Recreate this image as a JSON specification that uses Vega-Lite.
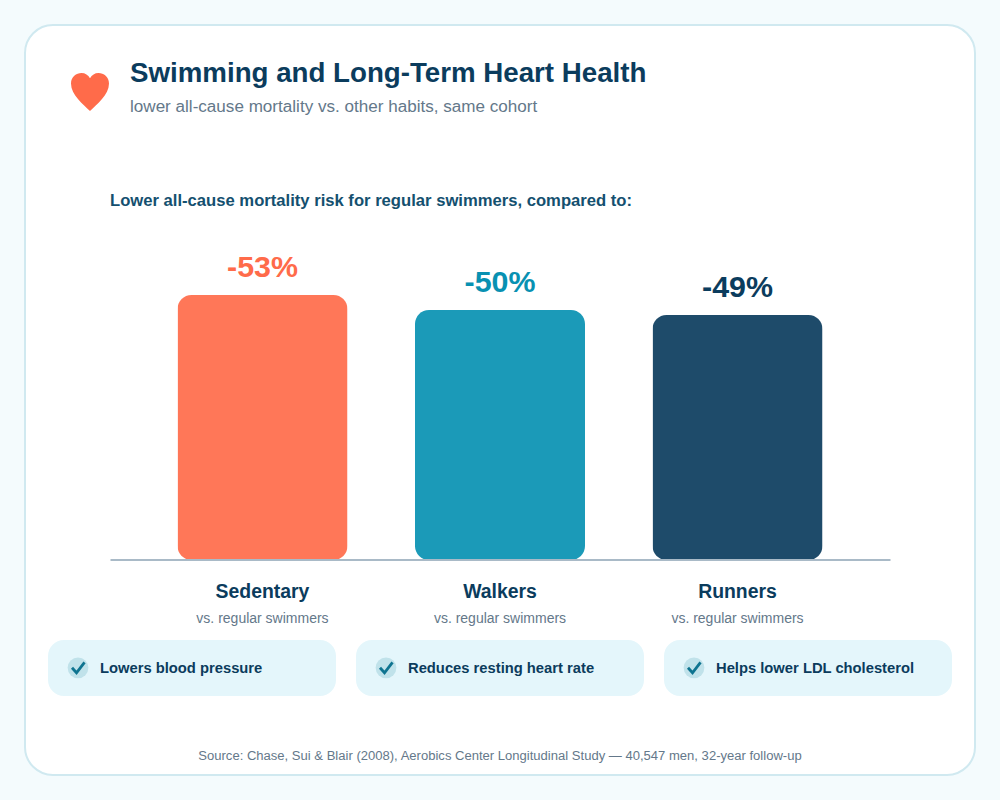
{
  "$schema": "https://vega.github.io/schema/vega-lite/v6.json",
  "background": "#f4fbfd",
  "padding": 25,
  "autosize": "none",
  "width": 950,
  "height": 750,
  "view": {"fill": "white", "stroke": "#d0e9f0", "strokeWidth": 2, "cornerRadius": 28},
  "config": {"font": "Liberation Sans"},
  "title": {
    "text": "Swimming and Long-Term Heart Health",
    "subtitle": "lower all-cause mortality vs. other habits, same cohort",
    "frame": "group",
    "anchor": "start",
    "dx": 105,
    "dy": 90,
    "offset": 0,
    "fontSize": 27.7,
    "fontWeight": "bold",
    "color": "#0b3c5d",
    "subtitleFontSize": 17.08,
    "subtitleColor": "#64788a",
    "subtitlePadding": 11
  },
  "datasets": {
    "groups": [
      {"group": "Sedentary", "reduction": 53, "label": "-53%", "note": "vs. regular swimmers"},
      {"group": "Walkers", "reduction": 50, "label": "-50%", "note": "vs. regular swimmers"},
      {"group": "Runners", "reduction": 49, "label": "-49%", "note": "vs. regular swimmers"}
    ],
    "benefits": [
      {"benefit": "Lowers blood pressure"},
      {"benefit": "Reduces resting heart rate"},
      {"benefit": "Helps lower LDL cholesterol"}
    ]
  },
  "layer": [
    {
      "data": {"name": "groups"},
      "mark": {"type": "bar", "cornerRadius": 14, "opacity": 0.92},
      "encoding": {
        "x": {
          "field": "group",
          "type": "nominal",
          "sort": null,
          "title": null,
          "scale": {"type": "band", "domain": ["Sedentary", "Walkers", "Runners"], "range": [85, 865], "paddingInner": 0.2842, "paddingOuter": 0.2842},
          "axis": {
            "orient": "bottom",
            "offset": -215.5,
            "ticks": false,
            "grid": false,
            "labelAngle": 0,
            "labelFontSize": 19.4,
            "labelFontWeight": "bold",
            "labelColor": "#0b3c5d",
            "labelPadding": 22.5,
            "domainColor": "#a9bac7",
            "domainWidth": 2,
            "zindex": 1
          }
        },
        "y": {
          "field": "reduction",
          "type": "quantitative",
          "scale": {"domain": [-43, 107], "nice": false, "zero": false},
          "axis": null
        },
        "color": {
          "field": "group",
          "type": "nominal",
          "scale": {"domain": ["Sedentary", "Walkers", "Runners"], "range": ["#ff6b4a", "#0891b2", "#0b3c5d"]},
          "legend": null
        }
      }
    },
    {
      "data": {"name": "groups"},
      "mark": {"type": "text", "fontSize": 30.4, "fontWeight": "bold", "baseline": "bottom", "dy": -12},
      "encoding": {
        "x": {
          "field": "group",
          "type": "nominal",
          "sort": null,
          "scale": {"type": "band", "domain": ["Sedentary", "Walkers", "Runners"], "range": [85, 865], "paddingInner": 0.2842, "paddingOuter": 0.2842},
          "axis": null
        },
        "y": {"field": "reduction", "type": "quantitative"},
        "text": {"field": "label"},
        "color": {"field": "group", "type": "nominal", "legend": null}
      }
    },
    {
      "data": {"name": "groups"},
      "mark": {"type": "text", "fontSize": 14, "color": "#64788a"},
      "encoding": {
        "x": {
          "field": "group",
          "type": "nominal",
          "sort": null,
          "scale": {"type": "band", "domain": ["Sedentary", "Walkers", "Runners"], "range": [85, 865], "paddingInner": 0.2842, "paddingOuter": 0.2842},
          "axis": null
        },
        "y": {"datum": -11.7},
        "text": {"field": "note"}
      }
    },
    {
      "data": {"values": [{"icon": "heart"}]},
      "mark": {
        "type": "point",
        "filled": true,
        "opacity": 1,
        "color": "#ff6b4a",
        "size": 1444,
        "shape": "M0,1 C-0.35,0.65 -1,0.15 -1,-0.45 C-1,-0.8 -0.72,-1 -0.45,-1 C-0.25,-1 -0.1,-0.9 0,-0.72 C0.1,-0.9 0.25,-1 0.45,-1 C0.72,-1 1,-0.8 1,-0.45 C1,0.15 0.35,0.65 0,1 Z"
      },
      "encoding": {
        "x": {
          "datum": "Sedentary",
          "bandPosition": -0.5147,
          "scale": {"type": "band", "domain": ["Sedentary", "Walkers", "Runners"], "range": [85, 865], "paddingInner": 0.2842, "paddingOuter": 0.2842},
          "axis": null
        },
        "y": {"datum": 93.6}
      }
    },
    {
      "data": {"values": [{"note": "Lower all-cause mortality risk for regular swimmers, compared to:"}]},
      "mark": {"type": "text", "align": "left", "fontSize": 16.64, "fontWeight": "bold", "color": "#14506f"},
      "encoding": {
        "x": {
          "datum": "Sedentary",
          "bandPosition": -0.3971,
          "scale": {"type": "band", "domain": ["Sedentary", "Walkers", "Runners"], "range": [85, 865], "paddingInner": 0.2842, "paddingOuter": 0.2842},
          "axis": null
        },
        "y": {"datum": 71.9},
        "text": {"field": "note"}
      }
    },
    {
      "data": {"values": [{"note": "Source: Chase, Sui & Blair (2008), Aerobics Center Longitudinal Study — 40,547 men, 32-year follow-up"}]},
      "mark": {"type": "text", "fontSize": 13.05, "color": "#64788a"},
      "encoding": {
        "x": {
          "datum": "Walkers",
          "scale": {"type": "band", "domain": ["Sedentary", "Walkers", "Runners"], "range": [85, 865], "paddingInner": 0.2842, "paddingOuter": 0.2842},
          "axis": null
        },
        "y": {"datum": -39.2},
        "text": {"field": "note"}
      }
    },
    {
      "data": {"name": "benefits"},
      "mark": {"type": "bar", "cornerRadius": 16, "color": "#e4f6fb"},
      "encoding": {
        "x": {
          "field": "benefit",
          "type": "nominal",
          "sort": null,
          "scale": {"type": "band", "domain": ["Lowers blood pressure", "Reduces resting heart rate", "Helps lower LDL cholesterol"], "range": [23, 927], "paddingInner": 0.06494, "paddingOuter": 0},
          "axis": null
        },
        "y": {"datum": -16},
        "y2": {"datum": -27.2}
      }
    },
    {
      "data": {"name": "benefits"},
      "mark": {"type": "point", "filled": true, "opacity": 1, "shape": "circle", "size": 430, "color": "#c0e2ea"},
      "encoding": {
        "x": {
          "field": "benefit",
          "type": "nominal",
          "sort": null,
          "bandPosition": 0.1042,
          "scale": {"type": "band", "domain": ["Lowers blood pressure", "Reduces resting heart rate", "Helps lower LDL cholesterol"], "range": [23, 927], "paddingInner": 0.06494, "paddingOuter": 0},
          "axis": null
        },
        "y": {"datum": -21.56}
      }
    },
    {
      "data": {"name": "benefits"},
      "mark": {"type": "point", "filled": false, "opacity": 1, "size": 400, "strokeWidth": 2.8, "color": "#0e7490", "shape": "M-0.6,0 L-0.15,0.5 L0.65,-0.55"},
      "encoding": {
        "x": {
          "field": "benefit",
          "type": "nominal",
          "sort": null,
          "bandPosition": 0.1042,
          "scale": {"type": "band", "domain": ["Lowers blood pressure", "Reduces resting heart rate", "Helps lower LDL cholesterol"], "range": [23, 927], "paddingInner": 0.06494, "paddingOuter": 0},
          "axis": null
        },
        "y": {"datum": -21.56}
      }
    },
    {
      "data": {"name": "benefits"},
      "mark": {"type": "text", "align": "left", "dx": 52, "fontSize": 14.75, "fontWeight": "bold", "color": "#0b3c5d"},
      "encoding": {
        "x": {
          "field": "benefit",
          "type": "nominal",
          "sort": null,
          "bandPosition": 0,
          "scale": {"type": "band", "domain": ["Lowers blood pressure", "Reduces resting heart rate", "Helps lower LDL cholesterol"], "range": [23, 927], "paddingInner": 0.06494, "paddingOuter": 0},
          "axis": null
        },
        "y": {"datum": -21.7},
        "text": {"field": "benefit"}
      }
    }
  ],
  "resolve": {"scale": {"x": "independent"}}
}
